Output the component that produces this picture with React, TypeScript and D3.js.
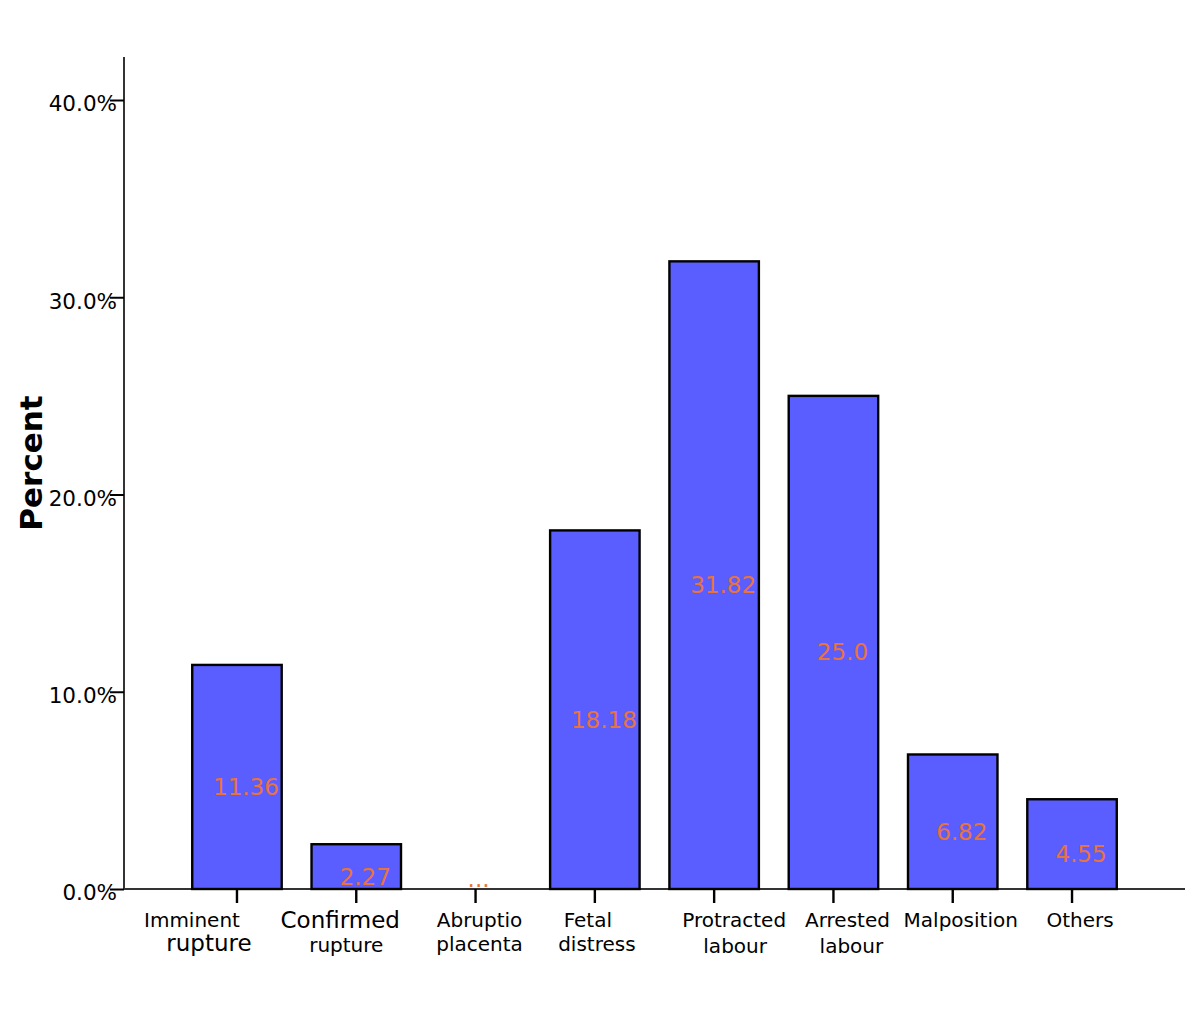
import React, { useLayoutEffect, useRef } from 'react';
import * as d3 from 'd3';

const categories = [
  'Imminent rupture',
  'Confirmed rupture',
  'Abruptio placenta',
  'Fetal distress',
  'Protracted labour',
  'Arrested labour',
  'Malposition',
  'Others',
];
const percents = [11.36, 2.27, 0, 18.18, 31.82, 25.0, 6.82, 4.55];
const valueLabels = ['11.36', '2.27', '...', '18.18', '31.82', '25.0', '6.82', '4.55'];
const yTicks = [0, 10, 20, 30, 40];

// hand placed category labels (offset from tick, font size, baseline)
type LabelLine = { text: string; dx: number; size: number; y: number };
const labelLayout: LabelLine[][] = [
  [
    { text: 'Imminent', dx: -45, size: 20, y: 927 },
    { text: 'rupture', dx: -28, size: 23, y: 951 },
  ],
  [
    { text: 'Confirmed', dx: -16, size: 23, y: 928 },
    { text: 'rupture', dx: -10, size: 20, y: 952 },
  ],
  [
    { text: 'Abruptio', dx: 4, size: 20, y: 927 },
    { text: 'placenta', dx: 4, size: 20, y: 951 },
  ],
  [
    { text: 'Fetal', dx: -7, size: 20, y: 927 },
    { text: 'distress', dx: 2, size: 20, y: 950.5 },
  ],
  [
    { text: 'Protracted', dx: 20, size: 20, y: 927 },
    { text: 'labour', dx: 21, size: 20, y: 953 },
  ],
  [
    { text: 'Arrested', dx: 14, size: 20, y: 927 },
    { text: 'labour', dx: 18, size: 20, y: 953 },
  ],
  [{ text: 'Malposition', dx: 8, size: 20, y: 927 }],
  [{ text: 'Others', dx: 8, size: 20, y: 927 }],
];

const width = 1200;
const height = 1012;
const x0 = 124;
const x1 = 1185;
const y0 = 889;
const yTop = 57;
const font = '"DejaVu Sans", Verdana, sans-serif';
const barFill = '#5b5eff';
const labelColor = '#e8733c';
const axisColor = '#333';

const draw = (el: SVGSVGElement) => {
  const svg = d3.select(el);
  svg.selectAll('*').remove();

  const xScale = d3
    .scaleBand<string>()
    .domain(categories)
    .range([x0, x1])
    .paddingInner(0.25)
    .paddingOuter(0.572);
  const yScale = d3.scaleLinear().domain([0, 42.18]).range([y0, yTop]);

  const data = categories.map((c, i) => ({ category: c, value: percents[i], label: valueLabels[i] }));

  // axis lines first, bars drawn over them
  svg
    .append('line')
    .attr('x1', x0)
    .attr('x2', x0)
    .attr('y1', yTop)
    .attr('y2', y0)
    .attr('stroke', axisColor)
    .attr('stroke-width', 2);
  svg
    .append('line')
    .attr('x1', x0)
    .attr('x2', x1)
    .attr('y1', y0)
    .attr('y2', y0)
    .attr('stroke', axisColor)
    .attr('stroke-width', 2);

  // bars
  svg
    .append('g')
    .selectAll('rect')
    .data(data)
    .enter()
    .append('rect')
    .attr('x', (d) => xScale(d.category) || 0)
    .attr('y', (d) => yScale(d.value))
    .attr('width', xScale.bandwidth())
    .attr('height', (d) => y0 - yScale(d.value))
    .attr('fill', barFill)
    .attr('stroke', '#000')
    .attr('stroke-width', 2.4);

  // value labels
  svg
    .append('g')
    .selectAll('text')
    .data(data)
    .enter()
    .append('text')
    .attr('x', (d) => (xScale(d.category) || 0) + xScale.bandwidth() / 2 + (d.value > 0 ? 9 : 3))
    .attr('y', (d) => Math.min((yScale(d.value) + y0) / 2 + 18, y0 - 2))
    .attr('text-anchor', 'middle')
    .attr('font-family', font)
    .attr('font-size', 23)
    .attr('fill', labelColor)
    .text((d) => d.label);

  // y axis
  const yAxis = d3
    .axisLeft(yScale)
    .tickValues(yTicks)
    .tickSize(14)
    .tickPadding(-7)
    .tickFormat((d) => `${(+d).toFixed(1)}%`);
  const yg = svg.append('g').attr('transform', `translate(${x0},0)`).call(yAxis);
  yg.select('.domain').remove();
  yg.selectAll('.tick line').attr('stroke', '#000').attr('stroke-width', 2);
  yg.selectAll('.tick text')
    .attr('font-family', font)
    .attr('font-size', 21.5)
    .attr('fill', '#000')
    .attr('dy', '0.5em');

  // x axis
  const xAxis = d3.axisBottom(xScale).tickSize(14).tickFormat(() => '');
  const xg = svg.append('g').attr('transform', `translate(0,${y0})`).call(xAxis);
  xg.select('.domain').remove();
  xg.selectAll('.tick line').attr('stroke', '#000').attr('stroke-width', 2.4);

  const labels = svg.append('g');
  categories.forEach((c, i) => {
    const cx = (xScale(c) || 0) + xScale.bandwidth() / 2;
    labelLayout[i].forEach((line) => {
      labels
        .append('text')
        .attr('x', cx + line.dx)
        .attr('y', line.y)
        .attr('text-anchor', 'middle')
        .attr('font-family', font)
        .attr('font-size', line.size)
        .attr('fill', '#000')
        .text(line.text);
    });
  });

  // y title
  svg
    .append('text')
    .attr('transform', `translate(42,${463}) rotate(-90)`)
    .attr('text-anchor', 'middle')
    .attr('font-family', font)
    .attr('font-weight', 'bold')
    .attr('font-size', 31)
    .attr('fill', '#000')
    .text('Percent');
};

export default function App() {
  const ref = useRef<SVGSVGElement>(null);

  useLayoutEffect(() => {
    if (ref.current) draw(ref.current);
  }, []);

  return (
    <svg
      ref={ref}
      width={width}
      height={height}
      style={{ position: 'absolute', left: 0, top: 0, background: '#fff' }}
    />
  );
}
